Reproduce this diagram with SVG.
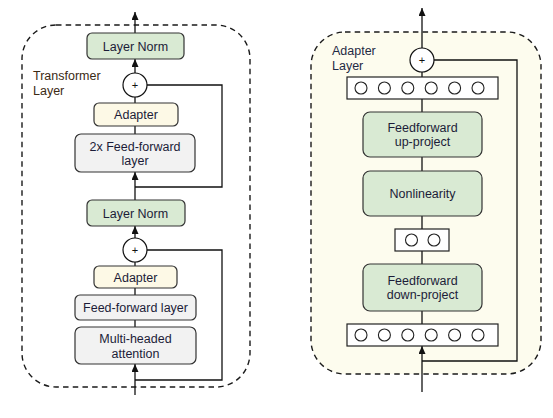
<svg xmlns="http://www.w3.org/2000/svg" width="553" height="418" viewBox="0 0 553 418">
<style>
.box{stroke:#333;stroke-width:1.2}
.green{fill:#d9ead3}
.cream{fill:#fdf9e6}
.gray{fill:#f2f2f2}
.vec{fill:#fff;stroke:#222;stroke-width:1.2}
.dot{fill:#fff;stroke:#222;stroke-width:1.1}
.t{font-family:"Liberation Sans",Arial,sans-serif;font-size:12.5px;fill:#1c1c38;text-anchor:middle}
.lbl{font-family:"Liberation Sans",Arial,sans-serif;font-size:12.5px}
.plus{fill:#fff;stroke:#111;stroke-width:1.2}
.pt{font-family:"Liberation Sans",Arial,sans-serif;font-size:11px;fill:#111;text-anchor:middle}
.c{fill:none;stroke:#111;stroke-width:1.3}
.ca{fill:none;stroke:#111;stroke-width:1.3;marker-end:url(#ah)}
.frame{stroke:#1a1a1a;stroke-width:1.4;stroke-dasharray:5.5 4.2}
</style>
<defs>
<marker id="ah" markerUnits="userSpaceOnUse" markerWidth="8" markerHeight="10" refX="8" refY="3.5" orient="auto">
<path d="M0,0 L8,3.5 L0,7 z" fill="#111"/>
</marker>
</defs>
<rect width="553" height="418" fill="#fff"/>

<g id="transformer-frame">
<rect class="frame" x="22" y="25" width="228" height="362" rx="34" fill="#fff"/>
<text class="lbl" x="33" y="80" fill="#3b2a14">Transformer</text>
<text class="lbl" x="33" y="95" fill="#3b2a14">Layer</text>
</g>
<g id="adapter-frame">
<rect class="frame" x="311" y="32" width="230" height="342" rx="34" fill="#fdfcee"/>
<text class="lbl" x="332" y="55" fill="#1f2a44">Adapter</text>
<text class="lbl" x="332" y="70" fill="#1f2a44">Layer</text>
</g>

<g id="connectors">
<line class="ca" x1="135" y1="33" x2="135" y2="12"/>
<line class="ca" x1="135" y1="73" x2="135" y2="59"/>
<line class="c" x1="135" y1="103" x2="135" y2="97"/>
<line class="c" x1="135" y1="126" x2="135" y2="134"/>
<line class="ca" x1="135" y1="200" x2="135" y2="172"/>
<polyline class="c" points="147,85 222,85 222,187 135,187"/>
<line class="ca" x1="135" y1="238" x2="135" y2="226"/>
<line class="c" x1="135" y1="266" x2="135" y2="262"/>
<line class="c" x1="135" y1="288" x2="135" y2="295"/>
<line class="c" x1="135" y1="320" x2="135" y2="327"/>
<line class="ca" x1="135" y1="395" x2="135" y2="364"/>
<polyline class="c" points="147,250 222,250 222,380 135,380"/>

<line class="ca" x1="422" y1="48" x2="422" y2="8"/>
<line class="c" x1="422" y1="77" x2="422" y2="72"/>
<line class="c" x1="422" y1="99" x2="422" y2="112"/>
<line class="c" x1="422" y1="157" x2="422" y2="171"/>
<line class="c" x1="422" y1="216" x2="422" y2="229"/>
<line class="c" x1="422" y1="251" x2="422" y2="264"/>
<line class="c" x1="422" y1="311" x2="422" y2="324"/>
<line class="ca" x1="422" y1="392" x2="422" y2="346"/>
<polyline class="c" points="434,60 517,60 517,361 422,361"/>
</g>

<g id="layer-norm-top">
<rect class="box green" x="87" y="33" width="97" height="26" rx="5"/>
<text class="t" x="135.5" y="50.5">Layer Norm</text>
</g>
<g id="plus-top">
<circle class="plus" cx="135" cy="85" r="12"/>
<text class="pt" x="135" y="89">+</text>
</g>
<g id="adapter-top">
<rect class="box cream" x="94" y="103" width="84" height="23" rx="5"/>
<text class="t" x="136" y="119">Adapter</text>
</g>
<g id="ff-2x">
<rect class="box gray" x="75" y="134" width="120" height="38" rx="6"/>
<text class="t" x="135" y="151">2x Feed-forward</text>
<text class="t" x="135" y="165">layer</text>
</g>
<g id="layer-norm-bottom">
<rect class="box green" x="87" y="200" width="98" height="26" rx="5"/>
<text class="t" x="135.5" y="217.5">Layer Norm</text>
</g>
<g id="plus-bottom">
<circle class="plus" cx="135" cy="250" r="12"/>
<text class="pt" x="135" y="254">+</text>
</g>
<g id="adapter-bottom">
<rect class="box cream" x="94" y="266" width="83" height="22" rx="5"/>
<text class="t" x="135.5" y="281.5">Adapter</text>
</g>
<g id="ff-layer">
<rect class="box gray" x="75" y="295" width="121" height="25" rx="5"/>
<text class="t" x="135.5" y="312">Feed-forward layer</text>
</g>
<g id="mha">
<rect class="box gray" x="75" y="327" width="121" height="37" rx="6"/>
<text class="t" x="135.5" y="343">Multi-headed</text>
<text class="t" x="135.5" y="357.5">attention</text>
</g>

<g id="plus-adapter">
<circle class="plus" cx="422" cy="60" r="12"/>
<text class="pt" x="422" y="64">+</text>
</g>
<g id="vector-top">
<rect class="vec" x="347" y="77" width="151" height="22"/>
<circle class="dot" cx="361" cy="88" r="6"/>
<circle class="dot" cx="384.4" cy="88" r="6"/>
<circle class="dot" cx="407.8" cy="88" r="6"/>
<circle class="dot" cx="431.2" cy="88" r="6"/>
<circle class="dot" cx="454.6" cy="88" r="6"/>
<circle class="dot" cx="478" cy="88" r="6"/>
</g>
<g id="ff-up">
<rect class="box green" x="363" y="112" width="119" height="45" rx="7"/>
<text class="t" x="422.5" y="131.5">Feedforward</text>
<text class="t" x="422.5" y="146">up-project</text>
</g>
<g id="nonlinearity">
<rect class="box green" x="363" y="171" width="119" height="45" rx="7"/>
<text class="t" x="422.5" y="198">Nonlinearity</text>
</g>
<g id="vector-small">
<rect class="vec" x="395" y="229" width="54" height="22"/>
<circle class="dot" cx="411.5" cy="240" r="6"/>
<circle class="dot" cx="434" cy="240" r="6"/>
</g>
<g id="ff-down">
<rect class="box green" x="363" y="264" width="119" height="47" rx="7"/>
<text class="t" x="422.5" y="284.5">Feedforward</text>
<text class="t" x="422.5" y="299">down-project</text>
</g>
<g id="vector-bottom">
<rect class="vec" x="347" y="324" width="151" height="22"/>
<circle class="dot" cx="361" cy="335" r="6"/>
<circle class="dot" cx="384.4" cy="335" r="6"/>
<circle class="dot" cx="407.8" cy="335" r="6"/>
<circle class="dot" cx="431.2" cy="335" r="6"/>
<circle class="dot" cx="454.6" cy="335" r="6"/>
<circle class="dot" cx="478" cy="335" r="6"/>
</g>
</svg>
